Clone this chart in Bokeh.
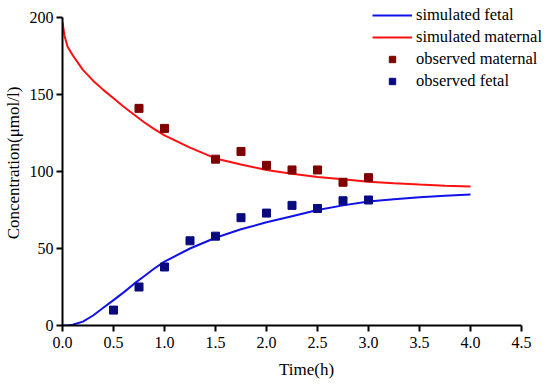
from bokeh.plotting import figure
from bokeh.models import Range1d, FixedTicker, Legend, LegendItem
from bokeh.embed import file_html
from bokeh.resources import INLINE

# simulated curves
t_sim = [0.0, 0.02, 0.05, 0.1, 0.2, 0.3, 0.4, 0.5, 0.6, 0.7, 0.8, 0.9, 1.0,
         1.25, 1.5, 1.75, 2.0, 2.25, 2.5, 2.75, 3.0, 3.25, 3.5, 3.75, 4.0]
sim_maternal = [197, 188, 181, 175.5, 166, 159, 153, 147.5, 142, 137, 132, 127.5, 123.5,
                115.5, 108.5, 104.5, 101, 98.5, 96.5, 95, 93.3, 92.3, 91.5, 90.8, 90.3]
sim_fetal = [0, 0, 0, 0.5, 2.5, 6.5, 11.5, 16.5, 21.5, 27, 32, 37, 41.5,
             50, 57, 62.5, 67, 71, 75, 78, 80.5, 82, 83.2, 84.2, 85]

# observed data
t_obs_maternal = [0.75, 1.0, 1.5, 1.75, 2.0, 2.25, 2.5, 2.75, 3.0]
obs_maternal = [141, 128, 108, 113, 104, 101, 101, 93, 96]
t_obs_fetal = [0.5, 0.75, 1.0, 1.25, 1.5, 1.75, 2.0, 2.25, 2.5, 2.75, 3.0]
obs_fetal = [10, 25, 38, 55, 58, 70, 73, 78, 76, 81, 81.5]

x_ticks = [0.0, 0.5, 1.0, 1.5, 2.0, 2.5, 3.0, 3.5, 4.0, 4.5]
y_ticks = [0, 50, 100, 150, 200]

FONT = "Liberation Serif"

# frame spans to the canvas right/top edges so the legend is not clipped;
# the axes are bounded to the data extents
X_MAX, Y_MAX = 4.5, 200
x_end = X_MAX * 488 / 459
y_end = Y_MAX * 325 / 308

p = figure(width=550, height=389, output_backend="svg", toolbar_location=None,
           x_range=Range1d(0, x_end), y_range=Range1d(0, y_end),
           min_border_left=62, min_border_right=0, min_border_top=0, min_border_bottom=64)
p.outline_line_color = None
p.xgrid.visible = False
p.ygrid.visible = False

r_fetal = p.line(t_sim, sim_fetal, line_color="#1010e8", line_width=2)
r_mat = p.line(t_sim, sim_maternal, line_color="#ff1010", line_width=2)
r_om = p.scatter(t_obs_maternal, obs_maternal, marker="square", size=8,
                 fill_color="#800000", line_color="#800000")
r_of = p.scatter(t_obs_fetal, obs_fetal, marker="square", size=8,
                 fill_color="#0a0a80", line_color="#0a0a80")

for ax in (p.xaxis[0], p.yaxis[0]):
    ax.axis_line_width = 2
    ax.axis_line_color = "black"
    ax.major_tick_line_width = 2
    ax.major_tick_line_color = "black"
    ax.major_tick_out = 6
    ax.major_tick_in = 0
    ax.minor_tick_out = 0
    ax.minor_tick_in = 0
    ax.major_label_text_font = FONT
    ax.major_label_text_font_size = "16px"
    ax.major_label_text_color = "black"
    ax.axis_label_text_font = FONT
    ax.axis_label_text_font_size = "17px"
    ax.axis_label_text_font_style = "normal"
    ax.axis_label_text_color = "black"

p.xaxis[0].bounds = (0, X_MAX)
p.yaxis[0].bounds = (0, Y_MAX)
p.xaxis[0].ticker = FixedTicker(ticks=x_ticks)
p.xaxis[0].major_label_overrides = {t: f"{t:.1f}" for t in x_ticks}
p.yaxis[0].ticker = FixedTicker(ticks=y_ticks)
p.xaxis[0].axis_label = "Time(h)"
p.yaxis[0].axis_label = "Concentration(μmol/l)"
p.xaxis[0].major_label_standoff = 5
p.yaxis[0].major_label_standoff = 3
p.xaxis[0].axis_label_standoff = 9
p.yaxis[0].axis_label_standoff = 4

legend = Legend(items=[
    LegendItem(label="simulated fetal", renderers=[r_fetal]),
    LegendItem(label="simulated maternal", renderers=[r_mat]),
    LegendItem(label="observed maternal", renderers=[r_om]),
    LegendItem(label="observed fetal", renderers=[r_of]),
], location=(310, 234))
legend.label_text_font = FONT
legend.label_text_font_size = "16.5px"
legend.label_text_color = "black"
legend.glyph_width = 40
legend.glyph_height = 16
legend.label_height = 16
legend.spacing = 2
legend.padding = 0
legend.margin = 0
legend.label_standoff = 4
legend.border_line_color = None
legend.background_fill_alpha = 0
p.add_layout(legend, "center")

open("out.html", "w").write(file_html(p, INLINE))
